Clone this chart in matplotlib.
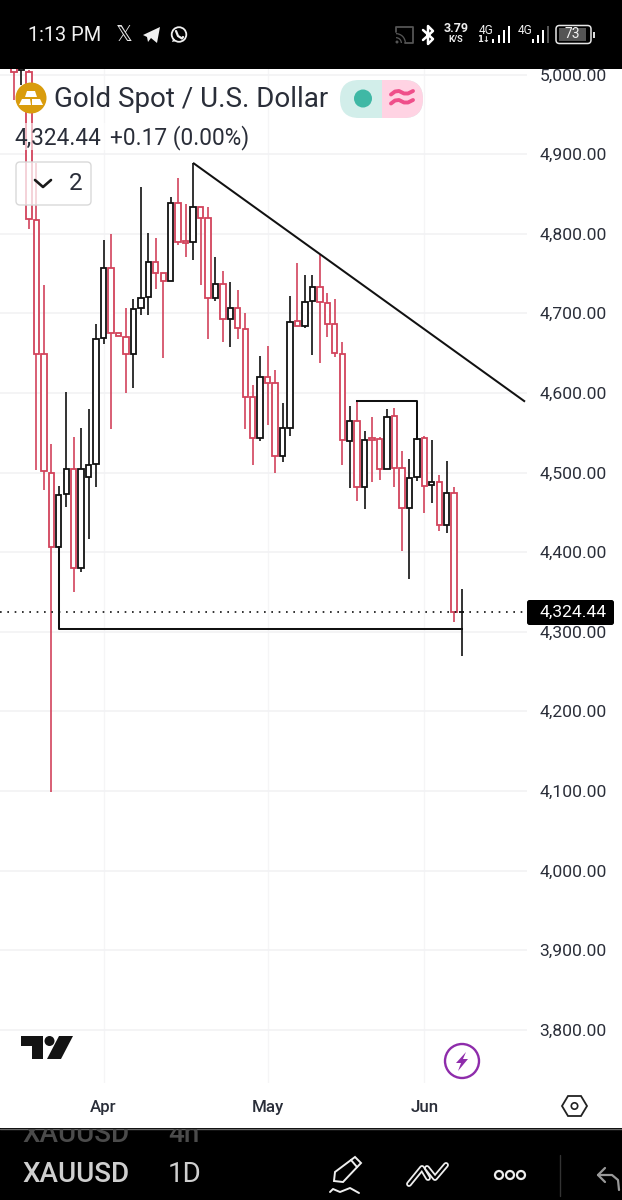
import matplotlib
matplotlib.use("Agg")
import matplotlib.pyplot as plt
from matplotlib.patches import Circle, FancyBboxPatch, Polygon, Rectangle, Wedge
from matplotlib.lines import Line2D
from matplotlib.transforms import ScaledTranslation

plt.rcParams['font.family'] = ['Roboto', 'DejaVu Sans']

# ---------- data (prices) ----------
highs = [5018,5013,5006,4889,4735,4536,4483,4601,4545,4556,4580,4686,4792,4800,4675,4707,4718,4859,4801,4795,
         4751,4846,4870,4837,4889,4834,4834,4771,4753,4739,4729,4700,4610,4646,4659,4629,4587,4722,4763,4748,
         4748,4773,4725,4718,4664,4583,4589,4552,4570,4545,4580,4581,4527,4517,4542,4546,4541,4497,4514,4482,4354]
tops  = [5011,5009,5003,4817,4649,4499,4472,4504,4504,4504,4509,4668,4757,4757,4675,4670,4705,4719,4764,4764,
         4751,4839,4839,4791,4834,4834,4820,4737,4737,4707,4707,4680,4595,4620,4620,4612,4556,4689,4690,4714,
         4733,4733,4713,4686,4649,4565,4565,4541,4543,4542,4570,4571,4506,4493,4542,4543,4488,4488,4474,4474,4325]
bottoms=[5003,5006,4818,4649,4502,4406,4406,4473,4380,4380,4494,4511,4669,4675,4671,4649,4649,4707,4720,4751,
         4741,4741,4790,4788,4790,4820,4719,4719,4693,4693,4682,4595,4543,4543,4612,4521,4521,4556,4684,4684,
         4715,4714,4686,4650,4541,4540,4482,4482,4541,4504,4504,4506,4455,4455,4494,4483,4484,4434,4434,4325,4324.44]
lows  = [4968,4987,4806,4503,4478,4099,4404,4457,4350,4375,4416,4482,4661,4555,4671,4600,4606,4698,4698,4730,
         4644,4741,4786,4771,4767,4736,4668,4715,4664,4658,4668,4555,4509,4540,4560,4499,4513,4546,4684,4682,
         4648,4638,4670,4645,4509,4481,4464,4454,4488,4491,4504,4482,4401,4366,4489,4449,4462,4426,4424,4312,4269]
colors_key = list("rkrrrrkkrkkkkrrrkkkrrkrrkrrkrkrrrkrrkkrkkrrrrkrkrrkrrkkrkrkrk")
price_ticks = [5000,4900,4800,4700,4600,4500,4400,4300,4200,4100,4000,3900,3800]
month_labels = ["Apr", "May", "Jun"]
month_pos = [12, 34, 55]
last_price = 4324.44
trend_line_x = [24, 68.5]
trend_line_y = [4889, 4589]
support_x = [6, 6, 60]
support_y = [4406, 4303, 4303]
range_x = [46, 54, 54]
range_y = [4590, 4590, 4542]

RED = "#d2435c"
BLK = "#111111"
GRID = "#f2f2f4"
TXT = "#2a2e39"

W, H = 622, 1200
fig = plt.figure(figsize=(W/100, H/100), dpi=100, facecolor="white")

# ---------- price chart ----------
AX_L, AX_R, AX_T, AX_B = 0, 527, 60, 1083
ax = fig.add_axes([AX_L/W, 1-AX_B/H, (AX_R-AX_L)/W, (AX_B-AX_T)/H])
PX_PER = 0.796
p_at = lambda y: 5000-(y-74.5)/PX_PER
i_at = lambda x: (x-14)/7.46
ax.set_xlim(i_at(AX_L), i_at(AX_R))
ax.set_ylim(p_at(AX_B), p_at(AX_T))
for s in ax.spines.values():
    s.set_visible(False)
ax.yaxis.tick_right()
ax.set_yticks(price_ticks)
ax.set_yticklabels([f"{v:,.2f}" for v in price_ticks], fontsize=12.6, color=TXT)
lift = ScaledTranslation(0, 1.2/72, fig.dpi_scale_trans)
for lab in ax.get_yticklabels():
    lab.set_transform(lab.get_transform() + lift)
ax.set_xticks(month_pos)
ax.set_xticklabels(month_labels, fontsize=12.2, color=TXT, fontweight="medium")
ax.tick_params(axis="y", length=0, pad=9.0)
ax.tick_params(axis="x", length=0, pad=12.5)
ax.grid(True, axis="y", color=GRID, lw=1.2)
ax.grid(True, axis="x", color="#f5f5f6", lw=1.0)
ax.set_axisbelow(True)

for i, (h, t, b, l, c) in enumerate(zip(highs, tops, bottoms, lows, colors_key)):
    col = RED if c == "r" else BLK
    ax.vlines(i, l, h, color=col, lw=1.2, zorder=3+i*0.01)
    ax.bar(i, t-b, bottom=b, width=0.72, facecolor="white", edgecolor=col, lw=1.3, zorder=3+i*0.01+0.001)

ax.plot(trend_line_x, trend_line_y, color=BLK, lw=1.45, zorder=5, solid_capstyle="butt")
ax.plot(support_x, support_y, color=BLK, lw=1.45, zorder=5)
ax.plot(range_x, range_y, color=BLK, lw=1.45, zorder=5)
ax.axhline(last_price, color=BLK, lw=1.2, ls=(0, (1.0, 3.4)), zorder=6)

# ---------- interface overlay in pixel coordinates ----------
ov = fig.add_axes([0, 0, 1, 1], zorder=10)
ov.set_xlim(0, W)
ov.set_ylim(H, 0)
ov.axis("off")
ov.patch.set_alpha(0)

def line(xs, ys, c="white", lw=1.2, **k):
    ov.add_line(Line2D(xs, ys, color=c, lw=lw, solid_capstyle=k.pop("cap", "round"), **k))

def rrect(x, y, w, h, r, **k):
    p = FancyBboxPatch((x+r, y+r), w-2*r, h-2*r, boxstyle=f"round,pad={r},rounding_size={r}", **k)
    ov.add_patch(p)
    return p

# top bar
ov.add_patch(Rectangle((0, 0), W, 69, fc="black", ec="none"))
ov.text(28, 35.5, "1:13 PM", color="#f0f0f0", fontsize=14.4, va="center", ha="left")
ov.text(124, 35, "\U0001D54F", color="#e8e8e8", fontsize=15, va="center", ha="center", family="DejaVu Sans")
ov.add_patch(Polygon([[143,35],[160,27],[157,43],[151,38],[148,42],[147,37]], fc="#f0f0f0", ec="none"))
ov.add_patch(Circle((179,34.5), 7.3, fc="none", ec="#f0f0f0", lw=1.3))
ov.add_patch(Polygon([[172,42],[173.5,38],[176,41]], fc="#f0f0f0", ec="none"))
line([176,178,182,183],[31,36,38.5,37], c="#f0f0f0", lw=1.6)
# cast
line([396,396,413,413,405],[32,27,27,43,43], c="#555555", lw=1.3)
ov.add_patch(Wedge((396,43), 10, 270, 360, width=1.3, fc="#555555"))
ov.add_patch(Wedge((396,43), 6, 270, 360, width=1.3, fc="#555555"))
ov.add_patch(Circle((397,42),1.5, fc="#555555"))
# bluetooth
line([423,433,428,428,433,423],[30,39,44,26,31,40], c="white", lw=1.8)
ov.text(456, 28, "3.79", color="#eeeeee", fontsize=9, fontweight="bold", ha="center", va="center")
ov.text(456, 39, "K/S", color="#eeeeee", fontsize=6.6, fontweight="bold", ha="center", va="center")
ov.text(486, 30, "4G", color="#eeeeee", fontsize=8.6, ha="center", va="center")
ov.text(483, 40, "1↓", color="#eeeeee", fontsize=6, ha="center", va="center", fontweight="bold", family="DejaVu Sans")
for x, h in zip([493,499,504,509],[4,8,13,17]):
    ov.add_patch(Rectangle((x-1.3, 43-h), 2.6, h, fc="white"))
ov.text(525, 30, "4G", color="#eeeeee", fontsize=8.6, ha="center", va="center")
for x, h, c in zip([533,538,543,548],[4,8,13,17],["white","white","white","#555555"]):
    ov.add_patch(Rectangle((x-1.3, 43-h), 2.6, h, fc=c))
rrect(556, 25.5, 35, 18, 3.5, fc="none", ec="#e6e6e6", lw=1.1)
ov.add_patch(Rectangle((559, 28), 27, 13, fc="#555555", ec="none"))
ov.text(572, 34.5, "73", color="#f2f2f2", fontsize=10, ha="center", va="center")
ov.add_patch(Rectangle((593, 32), 1.7, 6, fc="#dddddd"))

# header
ov.text(54, 99.5, "Gold Spot / U.S. Dollar", color=TXT, fontsize=20, va="center", ha="left")
ov.add_patch(Circle((31, 98), 15.5, fc="#d99c0d", ec="none"))
ov.add_patch(Polygon([[27,91],[35,91],[37,97],[25,97]], fc="white"))
ov.add_patch(Polygon([[22,99],[30,99],[31,105],[19,105]], fc="white"))
ov.add_patch(Polygon([[32,99],[40,99],[43,105],[32,105]], fc="white"))
rrect(340, 80, 83, 38, 19, fc="#d2eeea", ec="none")
clip = Rectangle((381.5, 70), 50, 60, transform=ov.transData)
pk = rrect(340, 80, 83, 38, 19, fc="#ffd3e3", ec="none")
pk.set_clip_path(clip)
ov.add_patch(Circle((363, 98.5), 9, fc="#3fb8a5", ec="none"))
for dy in (-4.5, 4.5):
    line([391,395,399,404,408,413],[99+dy,96+dy,95.5+dy,98+dy,98+dy,95.5+dy], c="#ef4f8a", lw=2.8)
ov.add_patch(Rectangle((10, 123), 245, 27, fc="white", alpha=0.6, ec="none"))
ov.text(14, 138, "4,324.44", color=TXT, fontsize=16.3, va="center", ha="left")
ov.text(110, 138, "+0.17 (0.00%)", color=TXT, fontsize=16.3, va="center", ha="left")
rrect(16, 162, 75, 43, 4, fc=(1,1,1,0.75), ec="#d9d9d9", lw=1.0)
line([35,43,51],[180,187,180], c="#1a1a1a", lw=1.9)
ov.text(75.5, 183.5, "2", color=TXT, fontsize=17.5, ha="center", va="center")

# last price tag
rrect(527, 600, 87, 25, 2.5, fc="black", ec="none")
ov.text(573, 612, f"{last_price:,.2f}", color="white", fontsize=12.6, ha="center", va="center")

# TradingView mark
ov.add_patch(Polygon([[20.5,1036],[43,1036],[43,1059],[32,1059],[32,1046],[20.5,1046]], fc="#131313"))
ov.add_patch(Circle((49.5,1041), 5, fc="#131313"))
ov.add_patch(Polygon([[59,1036],[73,1036],[61,1059],[47,1059]], fc="#131313"))

# lightning badge
ov.add_patch(Circle((462,1061), 17, fc="white", ec="#8e2cab", lw=1.7))
ov.add_patch(Polygon([[466,1052],[456,1063],[461,1063],[458,1071],[468,1059],[463,1059]], fc="#8e2cab"))

# settings hexagon
ov.add_patch(Polygon([[562,1106],[568,1096],[581,1096],[587,1106],[581,1116],[568,1116]], fc="white", ec="#222222", lw=1.3))
ov.add_patch(Circle((574.5,1106), 3.2, fc="white", ec="#222222", lw=1.2))

# bottom bar
ov.add_patch(Rectangle((0, 1128), W, 72, fc="black", ec="none"))
line([0,W],[1128.5,1128.5], c="#666666", lw=1)
bar_clip = Rectangle((0, 1129), W, 30, transform=ov.transData)
for x, s in ((22, "XAUUSD"), (168, "4h")):
    t = ov.text(x, 1134, s, color="#4b4b4b", fontsize=20, va="center", ha="left", fontweight="medium", clip_on=True)
    t.set_clip_path(bar_clip)
ov.text(22, 1175, "XAUUSD", color="#cfcfcf", fontsize=20, va="center", ha="left", fontweight="medium")
ov.text(168, 1175, "1D", color="#cfcfcf", fontsize=20, va="center", ha="left")
# pencil
ov.add_patch(Polygon([[334,1181],[335,1172],[355,1157],[361,1163],[343,1182]], fc="none", ec="#eeeeee", lw=1.4))
line([351,357],[1160,1167], c="#eeeeee", lw=1.4)
line([330,333,340,350,359],[1192,1189,1192,1188,1193], c="#eeeeee", lw=1.4)
# lines icon
line([409,422,428],[1184,1168,1178], c="#eeeeee", lw=4.2)
line([409,422,428],[1184,1168,1178], c="black", lw=1.6)
line([427,435,446],[1168,1178,1165], c="#eeeeee", lw=4.2)
line([427,435,446],[1168,1178,1165], c="black", lw=1.6)
# dots
for x in (499,510,521):
    ov.add_patch(Circle((x,1175), 4, fc="none", ec="#eeeeee", lw=1.6))
line([559.5,559.5],[1155,1196], c="#333333", lw=1)
line([605,598,605],[1168,1175,1182], c="#999999", lw=1.6)
line([598,612,618,619],[1175,1175,1180,1190], c="#999999", lw=1.6)

fig.savefig("out.png", dpi=100, facecolor="white")
